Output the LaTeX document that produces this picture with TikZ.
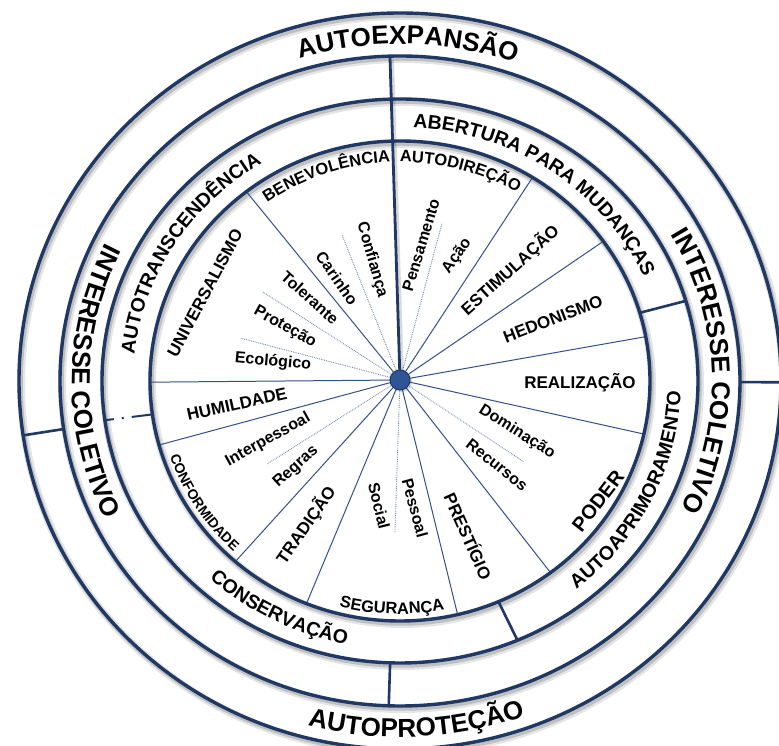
\documentclass[tikz,border=0pt]{standalone}
\usepackage{fontspec}
\setmainfont{Liberation Sans}
\usetikzlibrary{decorations.text,calc}
\definecolor{navy}{HTML}{1F3864}
\definecolor{spoke}{HTML}{34508A}
\definecolor{dotc}{HTML}{7A90B6}
\definecolor{dotfill}{HTML}{2F5597}
\tikzset{
  ring/.style={draw=navy, line width=3.4pt},
  ringsha/.style={draw=black, opacity=0.10, line width=8pt},
  ringshb/.style={draw=black, opacity=0.16, line width=4.5pt},
  spokeline/.style={draw=spoke, line width=1pt},
  dotline/.style={draw=dotc, line width=0.9pt, dash pattern=on 0.9pt off 0.9pt},
  divider/.style={draw=navy, line width=2.6pt},
  lblst/.style={inner sep=0pt, text=black},
}
% name, x, y, rotation, size, text
\newcommand\lbl[6]{%
  \node[lblst, rotate=#4, font=\bfseries\fontsize{#5}{#5}\selectfont] (#1) at (#2,#3) {#6};}
% start, end, rx, ry, size, text
\newcommand\arctext[6]{%
  \path[decorate, decoration={text along path, text align=center,
    text={|\bfseries\fontsize{#5}{#5}\selectfont|#6}}]
    ($(ctr)+(#1:#3 and #4)$) arc[start angle=#1, end angle=#2, x radius=#3, y radius=#4];}
\begin{document}
\begin{tikzpicture}[x=1pt,y=1pt]
\useasboundingbox (0,0) rectangle (779,746);
\fill[white] (0,0) rectangle (779,746);
\clip (0,0) rectangle (779,746);
\coordinate (ctr) at (400,365);
\coordinate (cen) at (400,366);

% shadows of rings
\foreach \rx/\ry in {381/368, 340/325, 298/282, 250/240} {
  \draw[ringsha] ($(ctr)+(2,-3)$) ellipse [x radius=\rx, y radius=\ry];
  \draw[ringshb] ($(ctr)+(1.5,-2.5)$) ellipse [x radius=\rx, y radius=\ry];
}

% spokes
\foreach \a in {129.2, 56.8, 34.3, 10, -12.5, -52, -76.2, 247.3, 227.8, 195.1, 180.5} {
  \draw[spokeline] (cen) -- ++(\a:{250/sqrt(cos(\a)^2+1.0851*sin(\a)^2)});
}
% dotted sub-value lines
\foreach \a/\r in {111.8/156, 75/162, -33.5/148, -91.9/153, 212.3/157, 165.3/165, 147.3/163} {
  \draw[dotline] (cen) -- ++(\a:\r);
}

% main vertical divider
\coordinate (topend) at (390,688);
\draw[black, opacity=0.15, line width=4pt] ($(cen)+(2,-2)$) -- ($(topend)+(2,-2)$);
\draw[navy, line width=2.8pt] (cen) -- (topend);

% rings
\foreach \rx/\ry in {381/368, 340/325, 298/282, 250/240} {
  \draw[ring] (ctr) ellipse [x radius=\rx, y radius=\ry];
}

% dividers
\draw[divider] ($(ctr)+(188.5:381 and 368)$) -- ($(ctr)+(188.5:340 and 325)$);
\draw[divider] ($(ctr)+(-0.2:340 and 325)$) -- ($(ctr)+(-0.2:381 and 368)$);
\draw[divider] ($(ctr)+(268.1:298 and 282)$) -- ($(ctr)+(268.1:340 and 325)$);
\draw[divider] ($(ctr)+(16.5:250 and 240)$) -- ($(ctr)+(16.5:298 and 282)$);
\draw[divider] ($(ctr)+(-66.8:250 and 240)$) -- ($(ctr)+(-66.8:298 and 282)$);
\draw[navy, line width=2pt, dash pattern=on 9pt off 8pt on 2pt off 8pt on 30pt]
  ($(ctr)+(188:298 and 282)$) -- ($(ctr)+(188:250 and 240)$);

% centre dot
\fill[black, opacity=0.15] ($(cen)+(1.5,-1.5)$) circle (10.5);
\node[circle, fill=dotfill, draw=navy, line width=1pt, minimum size=20pt, inner sep=0pt] (hub) at (cen) {};

% curved texts
\arctext{128.7}{48.7}{351}{337}{26pt}{AUTOEXPANSÃO}
\arctext{232.7}{312.7}{370}{356}{26pt}{AUTOPROTEÇÃO}
\arctext{120}{240}{328}{313}{26pt}{INTERESSE COLETIVO}
\arctext{62}{-58}{312}{296}{26pt}{INTERESSE COLETIVO}
\arctext{198}{98}{267}{254}{19.5pt}{AUTOTRANSCENDÊNCIA}
\arctext{115}{-5}{267}{254}{19.5pt}{ABERTURA PARA MUDANÇAS}
\arctext{192.6}{292.6}{281}{268}{19.5pt}{CONSERVAÇÃO}
\arctext{-86}{34}{281}{268}{19.5pt}{AUTOAPRIMORAMENTO}
\arctext{149.2}{69.2}{229}{219}{16.5pt}{BENEVOLÊNCIA}
\arctext{114.4}{34.4}{229}{219}{16.5pt}{AUTODIREÇÃO}
\arctext{172.4}{252.4}{243}{234}{14pt}{CONFORMIDADE}
\arctext{228}{308}{243}{233}{16.5pt}{SEGURANÇA}

% straight labels
\lbl{universalismo}{205}{453}{62}{17pt}{UNIVERSALISMO}
\lbl{confianca}{372}{486}{-74}{16pt}{Confiança}
\lbl{carinho}{337}{468}{-55}{16pt}{Carinho}
\lbl{tolerante}{310}{448}{-42}{16pt}{Tolerante}
\lbl{protecao}{285}{419}{-29}{16pt}{Proteção}
\lbl{ecologico}{273}{384}{-5}{16pt}{Ecológico}
\lbl{pensamento}{421}{501}{73}{16pt}{Pensamento}
\lbl{acao}{457}{490}{55}{16pt}{Ação}
\lbl{estimulacao}{510}{476}{42}{17pt}{ESTIMULAÇÃO}
\lbl{hedonismo}{553}{427}{21}{17pt}{HEDONISMO}
\lbl{realizacao}{580}{363}{0}{17pt}{REALIZAÇÃO}
\lbl{dominacao}{517}{314}{-32}{16pt}{Dominação}
\lbl{recursos}{497}{281}{-38}{16pt}{Recursos}
\lbl{poder}{598}{245}{52}{20pt}{PODER}
\lbl{prestigio}{469}{210}{-66}{17pt}{PRESTÍGIO}
\lbl{pessoal}{415}{238}{-75}{16pt}{Pessoal}
\lbl{social}{379}{240}{-76}{16pt}{Social}
\lbl{tradicao}{306}{221}{55}{17pt}{TRADIÇÃO}
\lbl{regras}{296}{279}{42}{16pt}{Regras}
\lbl{interpessoal}{268}{306}{29}{16pt}{Interpessoal}
\lbl{humildade}{237}{342}{12.5}{17pt}{HUMILDADE}
\end{tikzpicture}
\end{document}
